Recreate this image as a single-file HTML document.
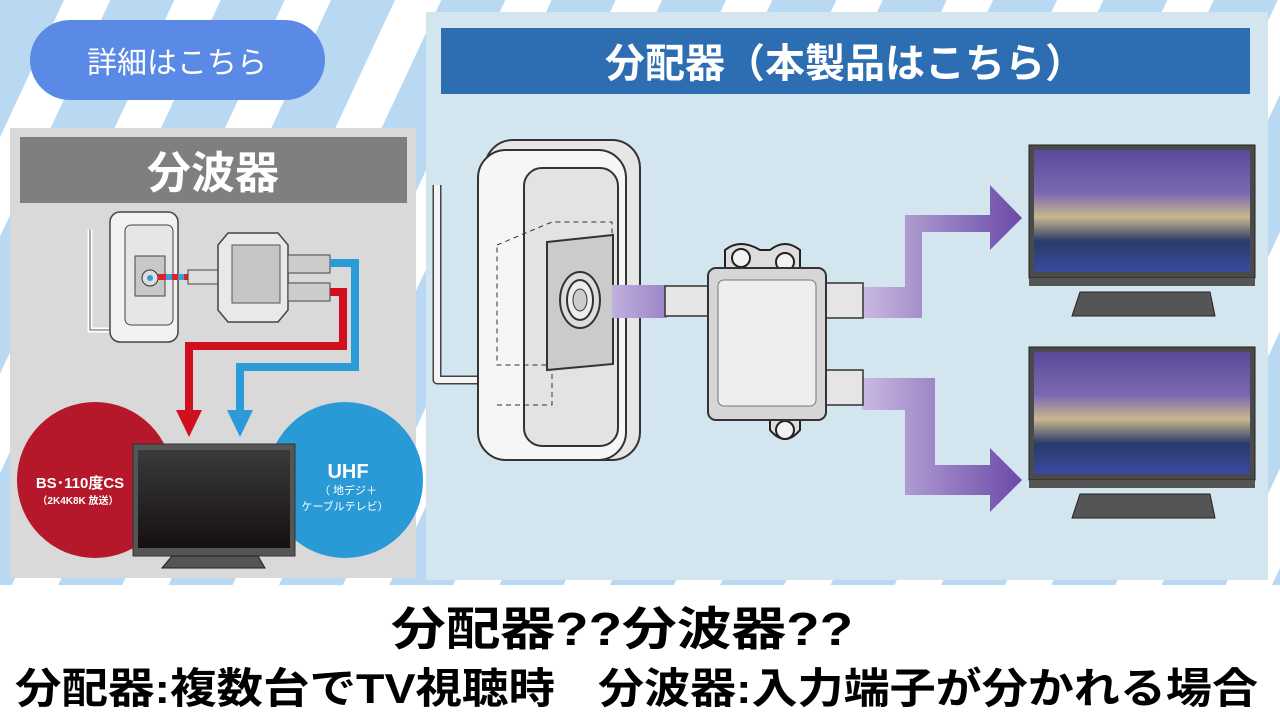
<!DOCTYPE html>
<html><head><meta charset="utf-8"><style>
html,body{margin:0;padding:0;width:1280px;height:720px;overflow:hidden;background:#fff}
svg{display:block}
text{font-family:"Liberation Sans","Noto Sans CJK JP",sans-serif}
</style></head><body>
<svg width="1280" height="720" viewBox="0 0 1280 720" xmlns="http://www.w3.org/2000/svg">
<defs>
<pattern id="st" patternUnits="userSpaceOnUse" width="100" height="100" patternTransform="rotate(25)">
<rect width="100" height="100" fill="#ffffff"/><rect width="58" height="100" fill="#b9d8f1"/>
</pattern>
<linearGradient id="scr" x1="0" y1="0" x2="0" y2="1">
<stop offset="0" stop-color="#5a4a9a"/><stop offset="0.35" stop-color="#7a68b0"/><stop offset="0.55" stop-color="#c8b890"/><stop offset="0.75" stop-color="#2a3a6a"/><stop offset="1" stop-color="#3a4aa0"/>
</linearGradient>
<linearGradient id="pa" x1="0" y1="0" x2="1" y2="0">
<stop offset="0" stop-color="#c9b9e0"/><stop offset="1" stop-color="#6a4aa8"/>
</linearGradient>
<linearGradient id="pb" x1="0" y1="0" x2="1" y2="0">
<stop offset="0" stop-color="#c0b0dd"/><stop offset="1" stop-color="#9c84c8"/>
</linearGradient>
<linearGradient id="tvs" x1="0" y1="0" x2="0" y2="1">
<stop offset="0" stop-color="#3a3a3a"/><stop offset="1" stop-color="#151010"/>
</linearGradient>
</defs>
<rect width="1280" height="590" fill="url(#st)"/>
<rect y="585" width="1280" height="135" fill="#fff"/>

<rect x="30" y="20" width="295" height="80" rx="40" fill="#5b8ae6"/>
<text x="177" y="73" font-size="30" fill="#fff" text-anchor="middle">詳細はこちら</text>

<rect x="10" y="128" width="406" height="450" fill="#d9d9d9"/>
<rect x="20" y="137" width="387" height="66" fill="#7f7f7f"/>
<text x="213" y="188" font-size="44" font-weight="bold" fill="#fff" text-anchor="middle">分波器</text>
<path d="M90 230 V330 H120" fill="none" stroke="#fff" stroke-width="5"/>
<path d="M90 230 V330 H120" fill="none" stroke="#555" stroke-width="1"/>
<rect x="110" y="212" width="68" height="130" rx="10" fill="#f2f2f2" stroke="#444" stroke-width="1.5"/>
<rect x="125" y="225" width="48" height="100" rx="6" fill="#e6e6e6" stroke="#444"/>
<rect x="135" y="256" width="30" height="40" fill="#c8c8c8" stroke="#444"/>
<circle cx="150" cy="278" r="8" fill="#ddd" stroke="#333"/><circle cx="150" cy="278" r="3" fill="#3a9ad8"/>
<rect x="158" y="274" width="30" height="6" fill="#e0202a"/>
<rect x="166" y="274" width="6" height="6" fill="#3aa0d8"/><rect x="178" y="274" width="6" height="6" fill="#3aa0d8"/>
<rect x="188" y="270" width="30" height="14" fill="#ddd" stroke="#444"/>
<path d="M218 245 L228 233 H278 L288 245 V310 L278 322 H228 L218 310Z" fill="#e9e9e9" stroke="#444" stroke-width="1.5"/>
<rect x="232" y="245" width="48" height="58" fill="#c5c5c5" stroke="#555"/>
<rect x="288" y="255" width="42" height="18" fill="#ccc" stroke="#444"/>
<rect x="288" y="283" width="42" height="18" fill="#ccc" stroke="#444"/>
<path d="M330 292 H343 V346 H189 V412" fill="none" stroke="#d0101e" stroke-width="8"/>
<path d="M176 410 H202 L189 437Z" fill="#d0101e"/>
<path d="M330 263 H355 V367 H240 V412" fill="none" stroke="#2a9ad8" stroke-width="8"/>
<path d="M227 410 H253 L240 437Z" fill="#2a9ad8"/>
<circle cx="95" cy="480" r="78" fill="#b5182a"/>
<circle cx="345" cy="480" r="78" fill="#2a9ad6"/>
<text x="80" y="488" font-size="15" font-weight="bold" fill="#fff" text-anchor="middle">BS･110度CS</text>
<text x="78" y="504" font-size="10" font-weight="bold" fill="#fff" text-anchor="middle">（2K4K8K 放送）</text>
<text x="348" y="478" font-size="20" font-weight="bold" fill="#fff" text-anchor="middle">UHF</text>
<text x="348" y="494" font-size="11" fill="#fff" text-anchor="middle">（ 地デジ＋</text>
<text x="345" y="510" font-size="11" fill="#fff" text-anchor="middle">ケーブルテレビ）</text>
<rect x="133" y="444" width="162" height="112" fill="#555" stroke="#333"/>
<rect x="138" y="450" width="152" height="98" fill="url(#tvs)"/>
<path d="M172 556 H258 L265 568 H162Z" fill="#555" stroke="#222"/>

<rect x="426" y="12" width="842" height="568" fill="#d3e5ee"/>
<rect x="441" y="28" width="809" height="66" fill="#2d6db2"/>
<text x="845" y="77" font-size="40" font-weight="bold" fill="#fff" text-anchor="middle">分配器（本製品はこちら）</text>

<path d="M437 185 V380 H488" fill="none" stroke="#444" stroke-width="9" stroke-linejoin="round"/>
<path d="M437 185 V380 H488" fill="none" stroke="#f4f4f4" stroke-width="6" stroke-linejoin="round"/>
<rect x="485" y="140" width="155" height="320" rx="28" fill="#e6e6e6" stroke="#333" stroke-width="2"/>
<rect x="478" y="150" width="148" height="310" rx="28" fill="#f6f6f6" stroke="#333" stroke-width="2"/>
<rect x="524" y="168" width="94" height="278" rx="18" fill="#e3e3e3" stroke="#333" stroke-width="2"/>
<path d="M497 245 L552 222 H612 V350 L553 365 H497Z" fill="none" stroke="#333" stroke-dasharray="5,4"/>
<path d="M497 405 H552 V365" fill="none" stroke="#333" stroke-dasharray="5,4"/>
<path d="M547 242 L613 235 V364 L547 370Z" fill="#cbcbcb" stroke="#333" stroke-width="2"/>
<ellipse cx="580" cy="300" rx="20" ry="28" fill="#ddd" stroke="#333" stroke-width="2"/>
<ellipse cx="580" cy="300" rx="13" ry="20" fill="#eee" stroke="#333" stroke-width="2"/>
<ellipse cx="580" cy="300" rx="7" ry="11" fill="#ccc" stroke="#333"/>
<rect x="612" y="285" width="55" height="33" fill="url(#pb)"/>
<path d="M862 287 H905 V215 H990 V185 L1022 218 L990 250 V232 H922 V318 H862Z" fill="url(#pa)"/>
<path d="M862 378 H935 V465 H990 V448 L1022 480 L990 512 V495 H905 V410 H862Z" fill="url(#pa)"/>
<rect x="665" y="286" width="45" height="30" fill="#e5e5e5" stroke="#333" stroke-width="1.5"/>
<rect x="823" y="283" width="40" height="35" fill="#e5e5e5" stroke="#333" stroke-width="1.5"/>
<rect x="823" y="370" width="40" height="35" fill="#e5e5e5" stroke="#333" stroke-width="1.5"/>
<path d="M725 268 V250 Q740 238 760 250 H770 Q785 238 800 250 V268Z" fill="#ddd" stroke="#222" stroke-width="2"/>
<circle cx="741" cy="258" r="9" fill="#f2f2f2" stroke="#222" stroke-width="2"/>
<circle cx="785" cy="262" r="9" fill="#f2f2f2" stroke="#222" stroke-width="2"/>
<path d="M770 420 V430 Q785 448 800 430 V420Z" fill="#ddd" stroke="#222" stroke-width="2"/>
<circle cx="785" cy="430" r="9" fill="#f2f2f2" stroke="#222" stroke-width="2"/>
<rect x="708" y="268" width="118" height="152" rx="8" fill="#d6d6d6" stroke="#333" stroke-width="2"/>
<rect x="718" y="280" width="98" height="126" rx="6" fill="#eeeeee" stroke="#777"/>
<g>
<rect x="1029" y="145" width="226" height="133" fill="#4a4a4a" stroke="#222"/>
<rect x="1034" y="150" width="216" height="122" fill="url(#scr)"/>
<rect x="1029" y="278" width="226" height="8" fill="#555"/>
<path d="M1080 292 H1210 L1215 316 H1072Z" fill="#555" stroke="#222"/>
</g>
<g transform="translate(0,202)">
<rect x="1029" y="145" width="226" height="133" fill="#4a4a4a" stroke="#222"/>
<rect x="1034" y="150" width="216" height="122" fill="url(#scr)"/>
<rect x="1029" y="278" width="226" height="8" fill="#555"/>
<path d="M1080 292 H1210 L1215 316 H1072Z" fill="#555" stroke="#222"/>
</g>

<text x="622" y="645" font-size="46" font-weight="bold" fill="#000" text-anchor="middle" textLength="462" lengthAdjust="spacingAndGlyphs">分配器??分波器??</text>
<text x="15" y="703" font-size="42" font-weight="bold" fill="#000" textLength="540" lengthAdjust="spacingAndGlyphs">分配器:複数台でTV視聴時</text>
<text x="598" y="703" font-size="42" font-weight="bold" fill="#000" textLength="660" lengthAdjust="spacingAndGlyphs">分波器:入力端子が分かれる場合</text>
</svg>
</body></html>
